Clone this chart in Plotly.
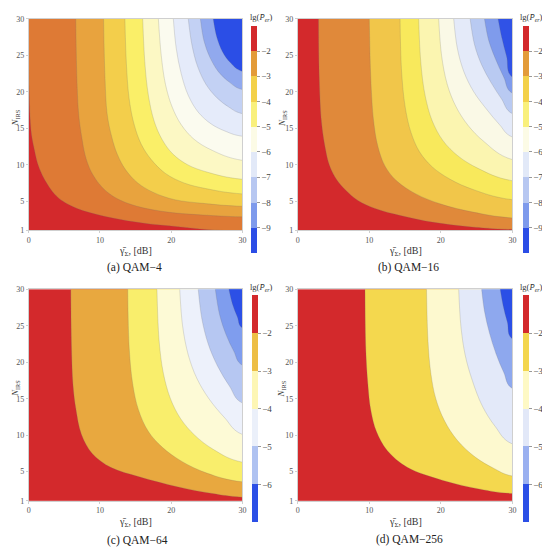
import plotly.graph_objects as go

# ---------------- data ----------------
# each contour boundary: gamma [dB] values and matching N_IRS values
A_X = [
    [0, 0.15, 0.4, 0.8, 1.3, 2.2, 3.6, 4.8, 6.8, 10.3, 16, 21, 27],
    [6.6, 6.75, 7.0, 7.4, 8.0, 8.9, 10.4, 12.3, 15.2, 19.5, 24.5, 30],
    [10.5, 10.7, 11.0, 11.6, 12.4, 13.6, 15.3, 17.5, 20.5, 24.5, 30],
    [13.5, 13.7, 14.1, 14.8, 15.8, 17.2, 19.2, 21.8, 25, 30],
    [16.0, 16.3, 16.8, 17.6, 18.7, 20.2, 22.3, 25, 30],
    [18.2, 18.6, 19.2, 20.1, 21.4, 23.2, 25.7, 30],
    [20.3, 20.7, 21.4, 22.4, 23.8, 25.6, 27.6, 30],
    [22.4, 22.9, 23.7, 24.9, 26.4, 28.1, 30],
    [24.1, 24.6, 25.4, 26.6, 28.2, 30],
    [25.9, 26.4, 27.2, 28.4, 30],
]
A_N = [
    [23, 17, 14, 12, 10, 8, 6, 5, 4, 3, 2, 1.5, 1],
    [30, 22, 17, 14, 11, 8.8, 6.8, 5.4, 4.3, 3.5, 3.1, 2.85],
    [30, 22, 17, 14, 11.5, 9.3, 7.5, 6.2, 5.2, 4.7, 4.3],
    [30, 24, 19, 15.5, 12.8, 10.7, 8.8, 7.5, 6.7, 6.0],
    [30, 24, 19.5, 16, 13.5, 11.5, 10, 9, 8.0],
    [30, 25, 21, 18, 15.5, 13.5, 12, 10.6],
    [30, 26, 22.5, 19.5, 17.2, 15.6, 14.6, 13.9],
    [30, 26.5, 23.5, 21, 19.2, 17.9, 17.0],
    [30, 27, 24.8, 22.8, 21.3, 20.3],
    [30, 27.5, 25.5, 23.9, 22.8],
]
B_X = [
    [2.9, 3.0, 3.3, 3.8, 4.4, 5.4, 6.6, 8.4, 10.8, 14.5, 19, 24, 30],
    [10.0, 10.2, 10.6, 11.2, 12.2, 13.8, 16.5, 20, 24.5, 30],
    [14.3, 14.5, 15, 15.8, 17, 18.8, 21.3, 24.5, 30],
    [16.9, 17.2, 17.8, 18.8, 20.3, 22.4, 25.2, 30],
    [19.7, 20.1, 20.9, 22.1, 23.8, 26, 30],
    [21.8, 22.3, 23.2, 24.6, 26.4, 28.2, 30],
    [24.1, 24.7, 25.7, 27, 28.5, 30],
    [26.1, 26.7, 27.6, 28.8, 30],
    [28.0, 28.5, 29.2, 30],
]
B_N = [
    [30, 22, 16, 12.5, 10, 8, 6.6, 5.1, 4, 3, 2.1, 1.5, 1.12],
    [30, 22, 16, 12.5, 9.8, 7.8, 6, 4.6, 3.5, 2.7],
    [30, 23, 18, 14.5, 11.8, 9.7, 8, 6.6, 5.2],
    [30, 24, 19.5, 16, 13.3, 11.2, 9.5, 7.8],
    [30, 25, 21, 18, 15.4, 13.2, 10.7],
    [30, 26, 22.8, 20, 17.6, 15.5, 13.8],
    [30, 26.5, 23.7, 21.3, 19, 17.0],
    [30, 27, 24.6, 22, 19.8],
    [30, 27.5, 24.8, 22.0],
]
C_X = [
    [5.9, 6.0, 6.2, 6.6, 7.4, 8.9, 11.5, 15.5, 21, 25.8, 30],
    [13.9, 14.1, 14.6, 15.4, 16.8, 18.8, 21.5, 25, 30],
    [18.0, 18.3, 18.9, 19.9, 21.3, 23.3, 26, 30],
    [21.2, 21.6, 22.4, 23.6, 25.3, 27.5, 30],
    [23.8, 24.3, 25.2, 26.5, 28.2, 30],
    [26.2, 26.8, 27.7, 28.8, 30],
    [28.1, 28.6, 29.3, 30],
]
C_N = [
    [30, 22, 17, 13.7, 10.1, 7.5, 5.6, 4.3, 2.9, 2.0, 1.5],
    [30, 22, 17, 13.5, 10.5, 8.3, 6.4, 4.8, 3.6],
    [30, 23, 18.5, 15, 12.3, 10, 8, 6.3],
    [30, 25, 21, 17.8, 15, 12.4, 10.1],
    [30, 26, 22.5, 19.5, 16.7, 14.4],
    [30, 26.5, 23.8, 21.5, 19.6],
    [30, 28, 26.2, 24.7],
]
D_X = [
    [9.4, 9.5, 9.8, 10.2, 11, 12.5, 15.3, 20.3, 25.5, 30],
    [18.0, 18.2, 18.6, 19.3, 20.5, 22.3, 24.8, 27.5, 30],
    [22.5, 22.8, 23.4, 24.4, 25.8, 27.6, 30],
    [25.7, 26.1, 26.8, 27.7, 28.8, 30],
    [28.3, 28.7, 29.3, 30],
]
D_N = [
    [30, 22, 17, 13.5, 10.5, 7.9, 5.6, 3.8, 2.6, 2.0],
    [30, 23, 18.5, 15, 12, 9.3, 7, 5.4, 4.4],
    [30, 25, 21, 17.5, 14, 11.2, 8.8],
    [30, 27, 24, 21.2, 18.6, 16.4],
    [30, 27.8, 25.5, 23.2],
]

# colorbar levels lg(P_er)
CB_AB_TICKS = [-9, -8, -7, -6, -5, -4, -3, -2]
CB_CD_TICKS = [-6, -5, -4, -3, -2]
CAPTIONS = ["(a) QAM\u22124", "(b) QAM\u221216", "(c) QAM\u221264", "(d) QAM\u2212256"]
X_TICKS = [0, 10, 20, 30]
Y_TICKS = [1, 5, 10, 15, 20, 25, 30]

RED = "#D3292C"
COLS_A = [RED, "#DE7A35", "#E8A33E", "#F3CE4B", "#FAEF68", "#FCF8C4", "#FBFBEF",
          "#E5EBFA", "#C3D1F4", "#91A9EE", "#2B4EE6"]
COLS_B = [RED, "#E0893A", "#F1C64A", "#F8E95C", "#FBF5B0", "#FAF9E6",
          "#E4EAF9", "#B9CAF2", "#7F9BEC", "#3052E6"]
COLS_C = [RED, "#E8A83F", "#F9EE6C", "#FDFAD6", "#EDF1FB", "#B6C7F2", "#7F9DEE", "#2C50E6"]
COLS_D = [RED, "#F4D84E", "#FDF9CF", "#E3E9F9", "#8EA8EE", "#2B4FE6"]
# colorbar colors, bottom (lowest) to top
CB_A = ["#2B4DE6", "#7E9AEC", "#B7C7F1", "#E2E9F8", "#FCFBE6", "#F9F07C", "#F3D14A", "#E39B39", RED]
CB_B = ["#2B4DE6", "#7E9AEC", "#B7C7F1", "#E2E9F8", "#FCFBE6", "#F9F07C", "#F3D14A", "#E39B39", RED]
CB_C = ["#2B4FE6", "#AFC2F1", "#EBF0FA", "#FDF6B5", "#EDBE45", RED]
CB_D = ["#2B4FE6", "#9AB0F0", "#E2E8F8", "#FEF9C5", "#F3D64E", RED]

FONT = "Liberation Serif"
PAGE_OFF = 8                 # default body margin of the page holding the figure
W, H = 550 - PAGE_OFF, 554 - PAGE_OFF


def fx(px):
    return (px - PAGE_OFF) / W


def fy(py):
    return 1 - (py - PAGE_OFF) / H


# positions in window pixels
panels = [
    dict(bx=A_X, bn=A_N, cols=COLS_A, cb=CB_A, ticks=CB_AB_TICKS, cmin=-10, cmax=-1,
         px=(27, 243), py=(15, 230), cbx=252, cby=(22, 253), cap=(134, 268), xt=252, cbt=262, yt=13.5),
    dict(bx=B_X, bn=B_N, cols=COLS_B, cb=CB_B, ticks=CB_AB_TICKS, cmin=-10, cmax=-1,
         px=(299, 516), py=(15, 230), cbx=527, cby=(22, 253), cap=(411, 268), xt=252, cbt=535, yt=283),
    dict(bx=C_X, bn=C_N, cols=COLS_C, cb=CB_C, ticks=CB_CD_TICKS, cmin=-7, cmax=-1,
         px=(27, 243), py=(290, 505), cbx=253, cby=(296, 527), cap=(137, 545), xt=527, cbt=262, yt=13.5),
    dict(bx=D_X, bn=D_N, cols=COLS_D, cb=CB_D, ticks=CB_CD_TICKS, cmin=-7, cmax=-1,
         px=(299, 516), py=(290, 505), cbx=527, cby=(296, 527), cap=(412, 544), xt=527, cbt=535, yt=283),
]

fig = go.Figure()
annotations = []
X0, X1 = X_TICKS[0], X_TICKS[-1]
Y0, Y1 = Y_TICKS[0], Y_TICKS[-1]
FX, FY = 2 * X1, 2 * Y1   # closing vertices far outside the visible range (clipped)

for i, p in enumerate(panels):
    sfx = "" if i == 0 else str(i + 1)
    xr, yr = "x" + sfx, "y" + sfx
    for k, (bx, bn) in enumerate(zip(p["bx"], p["bn"])):
        xs, ys = list(bx), list(bn)
        if xs[-1] < X1:     # curve ends on the bottom edge
            sx, sy = [FX, FX], [Y0, FY]
        else:               # curve ends on the right edge
            sx, sy = [FX, FX], [ys[-1], FY]
        if ys[0] < Y1:      # curve starts on the left edge
            sx, sy = sx + [X0], sy + [FY]
        else:
            sx, sy = sx + [xs[0]], sy + [FY]
        fig.add_trace(go.Scatter(
            x=xs + sx, y=ys + sy,
            xaxis=xr, yaxis=yr, mode="lines", fill="toself",
            fillcolor=p["cols"][k + 1],
            line=dict(color="rgba(110,110,110,0.35)", width=0.6, shape="spline", smoothing=1.0),
            hoverinfo="skip", showlegend=False))
    # colorbar carrier
    n = len(p["cb"])
    cs = []
    for j, c in enumerate(p["cb"]):
        cs.append([j / n, c])
        cs.append([(j + 1) / n, c])
    cy0, cy1 = p["cby"]
    fig.add_trace(go.Scatter(
        x=[None], y=[None], xaxis=xr, yaxis=yr, mode="markers", showlegend=False,
        marker=dict(color=[p["cmin"]], cmin=p["cmin"], cmax=p["cmax"], colorscale=cs,
                    showscale=True,
                    colorbar=dict(
                        x=fx(p["cbx"]), xanchor="left", xpad=0, ypad=0,
                        y=(fy(cy0) + fy(cy1)) / 2, yanchor="middle",
                        len=(cy1 - cy0) / H, lenmode="fraction", thickness=6,
                        outlinewidth=0, tickvals=p["ticks"],
                        ticktext=["\u2212" + str(abs(t)) for t in p["ticks"]],
                        ticks="outside", ticklen=3, tickcolor="#999",
                        tickfont=dict(family=FONT, size=9, color="#444")))))
    # axes
    x0, x1 = p["px"]
    y0, y1 = p["py"]
    axstyle = dict(showgrid=False, zeroline=False, showline=True, mirror=True,
                   linecolor="#CFCFCF", linewidth=1, ticks="outside", ticklen=2,
                   tickcolor="#CFCFCF", tickfont=dict(family=FONT, size=8, color="#555"))
    fig.update_layout(**{
        ("xaxis" + sfx): dict(domain=[fx(x0), fx(x1)], range=[X0, X1], tickvals=X_TICKS,
                              anchor=yr, **axstyle),
        ("yaxis" + sfx): dict(domain=[fy(y1), fy(y0)], range=[Y0, Y1], tickvals=Y_TICKS,
                              anchor=xr, **axstyle),
    })
    annotations.append(dict(x=(fx(x0) + fx(x1)) / 2, y=fy(p["xt"]), xref="paper", yref="paper",
                            text="\u03b3\u0304<sub>\u03a3</sub>, [dB]", showarrow=False,
                            xanchor="center", yanchor="middle",
                            font=dict(family=FONT, size=10, color="#333")))
    annotations.append(dict(x=fx(p["yt"]), y=(fy(y0) + fy(y1)) / 2 + 0.012, xref="paper", yref="paper",
                            text="<i>N</i><sub>IRS</sub>", showarrow=False, textangle=-90,
                            xanchor="center", yanchor="middle",
                            font=dict(family=FONT, size=9, color="#333")))
    annotations.append(dict(x=fx(p["cap"][0]), y=fy(p["cap"][1]), xref="paper", yref="paper",
                            text=CAPTIONS[i], showarrow=False, xanchor="center", yanchor="middle",
                            font=dict(family=FONT, size=11.5, color="#222")))
    annotations.append(dict(x=fx(p["cbt"]), y=fy(cy0 - 8), xref="paper", yref="paper",
                            text="lg(<i>P\u0304</i><sub><i>er</i></sub>)", showarrow=False,
                            xanchor="center", yanchor="middle",
                            font=dict(family=FONT, size=8.5, color="#333")))

fig.update_layout(width=W, height=H, margin=dict(l=0, r=0, t=0, b=0),
                  paper_bgcolor="white", plot_bgcolor=RED, annotations=annotations,
                  showlegend=False)
fig.write_html("out.html")
